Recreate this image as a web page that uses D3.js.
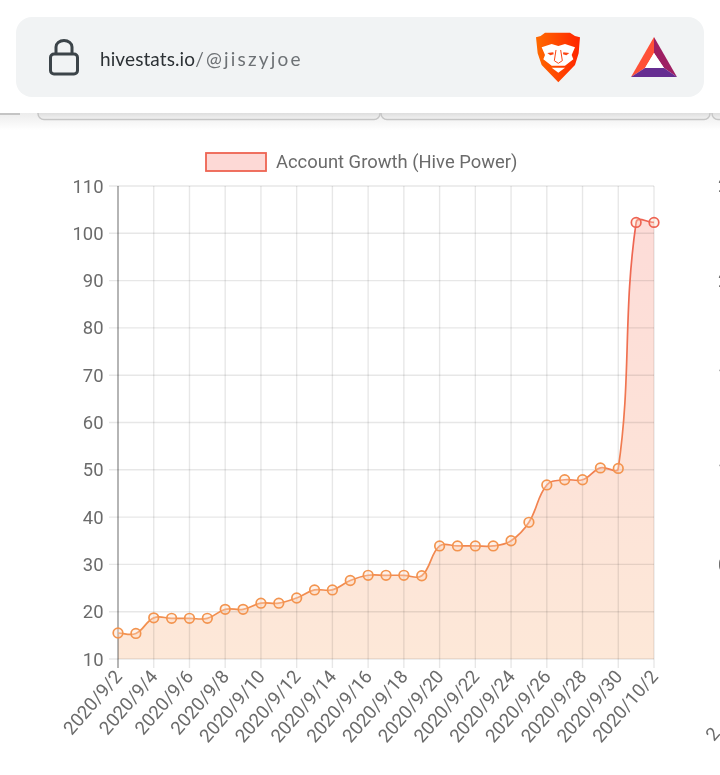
<!DOCTYPE html>
<html>
<head>
<meta charset="utf-8">
<script src="https://cdn.jsdelivr.net/npm/d3@7"></script>
<style>
  html, body { margin: 0; padding: 0; background: #fff; overflow: hidden; }
  svg { display: block; }
  text { font-family: Roboto, sans-serif; }
</style>
</head>
<body>
<div id="chartDiv"></div>
<script>
var days = ["2020/9/2","2020/9/3","2020/9/4","2020/9/5","2020/9/6","2020/9/7","2020/9/8","2020/9/9","2020/9/10","2020/9/11","2020/9/12","2020/9/13","2020/9/14","2020/9/15","2020/9/16","2020/9/17","2020/9/18","2020/9/19","2020/9/20","2020/9/21","2020/9/22","2020/9/23","2020/9/24","2020/9/25","2020/9/26","2020/9/27","2020/9/28","2020/9/29","2020/9/30","2020/10/1","2020/10/2"];
var hivePower = [15.5,15.4,18.7,18.6,18.6,18.6,20.5,20.5,21.8,21.8,22.9,24.6,24.6,26.6,27.7,27.7,27.7,27.6,33.9,33.9,33.9,33.9,35,38.9,46.8,47.9,47.9,50.4,50.3,102.3,102.3];
var yTicks = [10,20,30,40,50,60,70,80,90,100,110];
var seriesName = "Account Growth (Hive Power)";
var nextChartLabels = ["2","2","1","1","0"]; // the next chart is cut off by the screen edge

var width = 720, height = 775;
var plot = {left: 118, right: 654, top: 186, bottom: 659};
var labelColor = "#6b6b6b";

var svg = d3.select("#chartDiv").append("svg")
    .attr("width", width)
    .attr("height", height);

var defs = svg.append("defs");

var x_scale = d3.scalePoint().domain(days).range([plot.left, plot.right]);
var y_scale = d3.scaleLinear().domain([10, 110]).range([plot.bottom, plot.top]);

function makeGradient(id, x1, y1, x2, y2, c1, c2) {
  var g = defs.append("linearGradient").attr("id", id)
      .attr("gradientUnits", "userSpaceOnUse")
      .attr("x1", x1).attr("x2", x2)
      .attr("y1", y1).attr("y2", y2);
  g.append("stop").attr("offset", "0%").attr("stop-color", c1);
  g.append("stop").attr("offset", "100%").attr("stop-color", c2);
}
// fill and line fade from orange (low) to red (high)
makeGradient("fillGrad", 0, plot.bottom, 0, y_scale(102.3), "#fde8d8", "#fddcd8");
makeGradient("lineGrad", 0, plot.bottom, 0, y_scale(102.3), "#f3944f", "#ee6352");
makeGradient("shadowGrad", 0, 113, 0, 130, "#ececec", "#ffffff");
makeGradient("tabGrad", 0, 113, 0, 120, "#dedede", "#f4f4f4");
makeGradient("lionGrad", 48, 0, 180, 0, "#ff6a00", "#ff2400");

// same bezier as chart.js with tension 0.4, d3's own curves overshoot on the 10/1 jump
function curveTension(context) {
  var pts, second = false, inArea = false;
  return {
    areaStart: function(){ inArea = true; second = false; },
    areaEnd: function(){ context.closePath(); inArea = false; },
    lineStart: function(){ pts = []; },
    point: function(x, y){ pts.push([+x, +y]); },
    lineEnd: function(){
      var t = 0.4, ctrl = [];
      pts.forEach(function(p, i){
        var p0 = pts[Math.max(i - 1, 0)], p2 = pts[Math.min(i + 1, pts.length - 1)];
        var d01 = Math.hypot(p[0] - p0[0], p[1] - p0[1]);
        var d12 = Math.hypot(p2[0] - p[0], p2[1] - p[1]);
        var sum = (d01 + d12) || 1;
        var fa = t * d01 / sum, fb = t * d12 / sum;
        ctrl.push({
          prev: [p[0] - fa * (p2[0] - p0[0]), p[1] - fa * (p2[1] - p0[1])],
          next: [p[0] + fb * (p2[0] - p0[0]), p[1] + fb * (p2[1] - p0[1])]
        });
      });
      pts.forEach(function(p, i){
        if (i == 0) {
          if (inArea && second) context.lineTo(p[0], p[1]);
          else context.moveTo(p[0], p[1]);
        } else {
          context.bezierCurveTo(ctrl[i-1].next[0], ctrl[i-1].next[1], ctrl[i].prev[0], ctrl[i].prev[1], p[0], p[1]);
        }
      });
      second = true;
    }
  };
}

// page shadow + tabs peeking out under the url bar
var bar = svg.append("g").attr("class", "browser_bar");
bar.append("rect").attr("x", 0).attr("y", 113).attr("width", 720).attr("height", 17).attr("fill", "url(#shadowGrad)");
bar.append("rect").attr("x", 0).attr("y", 113).attr("width", 20).attr("height", 2).attr("fill", "#c4c4c4");
[[38, 380], [381, 710], [712, 730]].forEach(function(t){
  bar.append("rect").attr("x", t[0]).attr("y", 100).attr("width", t[1] - t[0]).attr("height", 19.5).attr("rx", 6)
      .attr("fill", "url(#tabGrad)").attr("stroke", "#c6c6c6").attr("stroke-width", 1.5);
});
bar.append("rect").attr("x", 0).attr("y", 0).attr("width", 720).attr("height", 113).attr("fill", "#fff");
bar.append("rect").attr("x", 16).attr("y", 17).attr("width", 688).attr("height", 80).attr("rx", 16).attr("fill", "#f1f3f4");

// lock icon
bar.append("rect").attr("x", 50.5).attr("y", 54).attr("width", 27).attr("height", 20).attr("rx", 3.5)
    .attr("fill", "none").attr("stroke", "#3c4449").attr("stroke-width", 3);
bar.append("path").attr("d", "M56,54V47a8,6.5 0 0 1 16,0V54")
    .attr("fill", "none").attr("stroke", "#3c4449").attr("stroke-width", 3);

var urlText = bar.append("text").attr("x", 100).attr("y", 66)
    .style("font-family", "Lato, sans-serif").style("font-size", "19px");
urlText.append("tspan").attr("fill", "#2c3135").style("letter-spacing", "0.1px").text("hivestats.io");
urlText.append("tspan").attr("fill", "#6d7175").style("letter-spacing", "2.2px").text("/@jiszyjoe");

// brave lion, drawn in 3x crop units
var lion = bar.append("g").attr("transform", "translate(520,20) scale(0.3333)");
lion.append("path")
    .attr("d", "M75,38 L150,38 L165,48 L180,52 L176,100 L165,135 L115,187 L65,135 L53,100 L48,52 L62,48 Z")
    .attr("fill", "url(#lionGrad)");
lion.append("path")
    .attr("d", "M65,82 L95,72 L115,78 L135,72 L165,82 L155,105 L160,118 L135,137 L95,137 L70,118 L75,105 Z")
    .attr("fill", "#fff");
lion.append("path").attr("d", "M82,99 L100,97 L101,103 L91,106 Z").attr("fill", "#fb4514");
lion.append("path").attr("d", "M148,99 L130,97 L129,103 L139,106 Z").attr("fill", "#fb4514");
lion.append("path").attr("d", "M108,90 L103,122 L115,130 L127,122 L122,90")
    .attr("fill", "none").attr("stroke", "#fb4514").attr("stroke-width", 3);
lion.append("path").attr("d", "M95,143 L135,143 L115,158 Z").attr("fill", "#fff");

// BAT triangle
bar.append("path").attr("d", "M654,37 L631,77 L645,68 L654,53 Z").attr("fill", "#ff5037");
bar.append("path").attr("d", "M654,37 L677,77 L664,68 L654,53 Z").attr("fill", "#9e1f63");
bar.append("path").attr("d", "M631,77 L677,77 L664,68 L645,68 Z").attr("fill", "#662d91");
bar.append("path").attr("d", "M654,53 L645,68 L664,68 Z").attr("fill", "#fff");

// legend
var legend = svg.append("g").attr("class", "legend");
legend.append("rect").attr("x", 206).attr("y", 153).attr("width", 60).attr("height", 18)
    .attr("fill", "#fdd9d6").attr("stroke", "#ee6352").attr("stroke-width", 1.8);
legend.append("text").attr("x", 276).attr("y", 167.5)
    .attr("fill", labelColor).style("font-size", "18.4px").text(seriesName);

// grid
var grid = svg.append("g").attr("class", "grid");
grid.selectAll(".hgrid").data(yTicks).enter().append("line")
    .attr("x1", plot.left - 9).attr("x2", plot.right)
    .attr("y1", function(d){ return y_scale(d); })
    .attr("y2", function(d){ return y_scale(d); })
    .attr("stroke", "#000").attr("stroke-opacity", 0.095).attr("stroke-width", 1.4);
grid.selectAll(".vgrid").data(days.filter(function(d, i){ return i % 2 == 0; })).enter().append("line")
    .attr("x1", function(d){ return x_scale(d); })
    .attr("x2", function(d){ return x_scale(d); })
    .attr("y1", plot.top).attr("y2", plot.bottom + 9)
    .attr("stroke", "#000").attr("stroke-opacity", 0.095).attr("stroke-width", 1.4);
grid.append("line").attr("x1", plot.left).attr("x2", plot.left)
    .attr("y1", plot.top).attr("y2", plot.bottom + 9)
    .attr("stroke", "#000").attr("stroke-opacity", 0.35).attr("stroke-width", 1.4);

// area + line
var area = d3.area().curve(curveTension)
    .x(function(d, i){ return x_scale(days[i]); })
    .y0(plot.bottom)
    .y1(function(d){ return y_scale(d); });
var line = d3.line().curve(curveTension)
    .x(function(d, i){ return x_scale(days[i]); })
    .y(function(d){ return y_scale(d); });

svg.append("path").datum(hivePower).attr("d", area)
    .attr("fill", "url(#fillGrad)").style("mix-blend-mode", "multiply");
svg.append("path").datum(hivePower).attr("d", line)
    .attr("fill", "none").attr("stroke", "url(#lineGrad)").attr("stroke-width", 1.7);

svg.append("g").selectAll("circle").data(hivePower).enter().append("circle")
    .attr("cx", function(d, i){ return x_scale(days[i]); })
    .attr("cy", function(d){ return y_scale(d); })
    .attr("r", 4.8)
    .attr("fill", "#fbd9c4").attr("fill-opacity", 0.35)
    .attr("stroke", function(d){ return d > 80 ? "#ee6352" : "#f3944f"; })
    .attr("stroke-width", 1.7);

// y labels
svg.append("g").selectAll("text").data(yTicks).enter().append("text")
    .attr("x", plot.left - 14.5).attr("y", function(d){ return y_scale(d) + 6.5; })
    .attr("text-anchor", "end").attr("fill", labelColor).style("font-size", "18.4px")
    .text(function(d){ return d; });

// x labels, every other day
svg.append("g").selectAll("text").data(days.filter(function(d, i){ return i % 2 == 0; })).enter().append("text")
    .attr("transform", function(d){ return "translate(" + (x_scale(d) + 5) + "," + (plot.bottom + 18) + ") rotate(-49)"; })
    .attr("text-anchor", "end").attr("fill", labelColor).style("font-size", "18.6px")
    .text(function(d){ return d; });

// first glyphs of the next chart at the right edge
svg.append("g").selectAll("text").data(nextChartLabels).enter().append("text")
    .attr("x", 718).attr("y", function(d, i){ return 192 + i * 94.7; })
    .attr("fill", labelColor).style("font-size", "18.4px")
    .text(function(d){ return d; });
svg.append("text").attr("transform", "translate(714,742) rotate(-49)")
    .attr("fill", labelColor).style("font-size", "18.4px").text("2");
</script>
</body>
</html>
